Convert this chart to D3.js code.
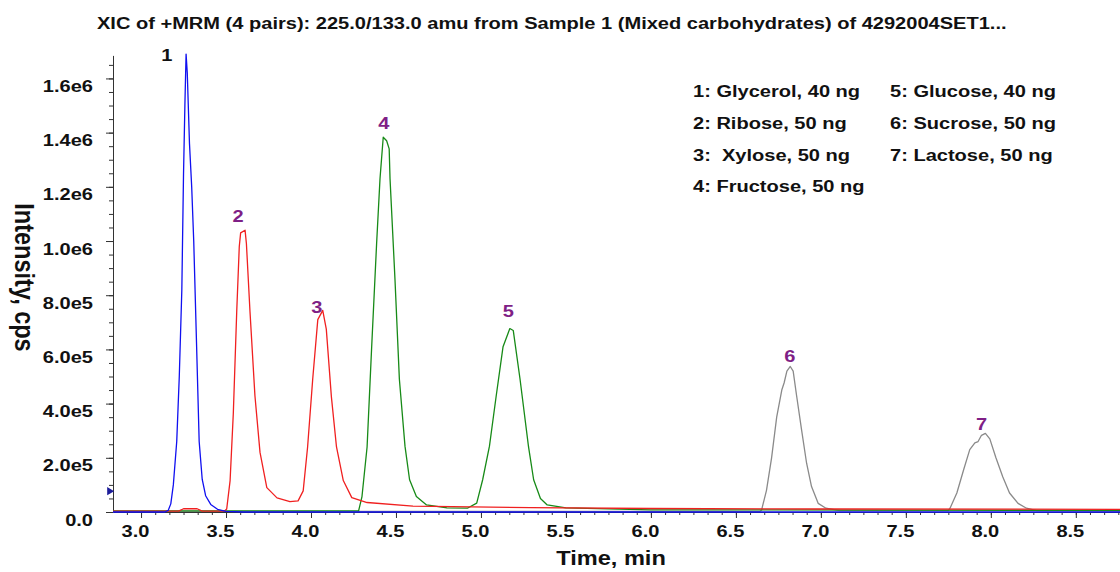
<!DOCTYPE html>
<html>
<head>
<meta charset="utf-8">
<script src="https://cdn.jsdelivr.net/npm/d3@7"></script>
<style>
  body { margin: 0; background: #fff; }
  svg text { font-family: "Liberation Sans", Arial, sans-serif; font-weight: bold; fill: #111; }
</style>
</head>
<body>
<div id="chart"></div>
<script>
const title = "XIC of +MRM (4 pairs): 225.0/133.0 amu from Sample 1 (Mixed carbohydrates) of 4292004SET1...";
const xLabel = "Time, min";
const yLabel = "Intensity, cps";

const xTicks = [3.0, 3.5, 4.0, 4.5, 5.0, 5.5, 6.0, 6.5, 7.0, 7.5, 8.0, 8.5];
const yTicks = [0, 2e5, 4e5, 6e5, 8e5, 1.0e6, 1.2e6, 1.4e6, 1.6e6];
const yTickLabels = ["0.0", "2.0e5", "4.0e5", "6.0e5", "8.0e5", "1.0e6", "1.2e6", "1.4e6", "1.6e6"];

// [time (min), intensity (cps)]
const blueTrace = [
  [2.835, 0], [3.14, 0], [3.16, 6e3], [3.175, 3e4], [3.19, 1.0e5], [3.21, 2.6e5], [3.225, 5.0e5],
  [3.24, 8.2e5], [3.25, 1.25e6], [3.258, 1.5e6], [3.265, 1.69e6], [3.272, 1.62e6], [3.285, 1.36e6],
  [3.298, 1.2e6], [3.31, 1.0e6], [3.327, 6.1e5], [3.342, 2.6e5], [3.36, 1.2e5], [3.38, 6e4],
  [3.41, 2.8e4], [3.45, 1e4], [3.5, 2e3], [3.6, 0], [8.76, 0]
];
const redTrace = [
  [2.835, 3e3], [3.22, 3e3], [3.25, 1.2e4], [3.33, 1.2e4], [3.36, 3e3], [3.49, 3e3], [3.504, 1.1e4],
  [3.524, 1.16e5], [3.543, 3.65e5], [3.563, 7.4e5], [3.578, 9.8e5], [3.586, 1.03e6], [3.612, 1.04e6],
  [3.62, 9.9e5], [3.641, 7.4e5], [3.67, 4.3e5], [3.70, 2.2e5], [3.74, 9e4], [3.80, 5.2e4],
  [3.876, 3.8e4], [3.924, 4.1e4], [3.954, 7.8e4], [3.98, 2.4e5], [4.01, 4.9e5], [4.04, 7.1e5],
  [4.069, 7.44e5], [4.09, 6.75e5], [4.12, 4.25e5], [4.15, 2.4e5], [4.19, 1.16e5], [4.24, 5.3e4],
  [4.33, 3.5e4], [4.6, 2.2e4], [5.29, 1.6e4], [6.0, 1.3e4], [7.0, 1.1e4], [8.76, 1e4]
];
const greenTrace = [
  [2.835, 4e3], [4.28, 4e3], [4.30, 5.7e4], [4.33, 2.4e5], [4.357, 6.1e5], [4.386, 9.9e5],
  [4.406, 1.23e6], [4.425, 1.383e6], [4.445, 1.37e6], [4.46, 1.34e6], [4.465, 1.23e6],
  [4.494, 8.6e5], [4.52, 4.9e5], [4.553, 2.43e5], [4.58, 1.19e5], [4.62, 5.7e4], [4.68, 2.6e4],
  [4.80, 1.5e4], [4.92, 1.4e4], [4.975, 3.3e4], [5.01, 1.19e5], [5.05, 2.43e5], [5.09, 4.3e5],
  [5.13, 6.1e5], [5.17, 6.77e5], [5.19, 6.7e5], [5.23, 4.9e5], [5.28, 2.4e5], [5.31, 1.19e5],
  [5.35, 5e4], [5.39, 2.6e4], [5.5, 1.5e4], [6.0, 8e3], [8.76, 6e3]
];
const grayTrace = [
  [2.835, 2e3], [6.64, 2e3], [6.651, 7e3], [6.68, 8e4], [6.71, 2.0e5], [6.74, 3.5e5], [6.77, 4.5e5],
  [6.784, 4.77e5], [6.80, 5.2e5], [6.82, 5.37e5], [6.837, 5.2e5], [6.857, 4.3e5], [6.886, 3.05e5],
  [6.916, 1.8e5], [6.945, 9.4e4], [6.984, 3.2e4], [7.03, 1.4e4], [7.11, 5e3], [7.75, 5e3],
  [7.76, 1.4e4], [7.80, 7e4], [7.84, 1.56e5], [7.876, 2.3e5], [7.906, 2.55e5], [7.925, 2.6e5],
  [7.945, 2.83e5], [7.968, 2.9e5], [7.994, 2.7e5], [8.03, 2.0e5], [8.07, 1.3e5], [8.11, 7e4],
  [8.16, 3.2e4], [8.21, 1.4e4], [8.27, 5e3], [8.76, 3e3]
];

const peakNames = ["1", "2", "3", "4", "5", "6", "7"];
const peakLabelAt = [[3.151, 1.665e6], [3.571, 1.071e6], [4.034, 7.33e5], [4.428, 1.412e6],
                     [5.161, 7.18e5], [6.818, 5.55e5], [7.945, 3.03e5]];
const peakLabelColors = ["#111", "#7f1f86", "#7f1f86", "#7f1f86", "#7f1f86", "#7f1f86", "#7f1f86"];

const legendLeft = ["1: Glycerol, 40 ng", "2: Ribose, 50 ng", "3:  Xylose, 50 ng", "4: Fructose, 50 ng"];
const legendRight = ["5: Glucose, 40 ng", "6: Sucrose, 50 ng", "7: Lactose, 50 ng"];

const thresholdLevel = 7.7e4;

// text in the source picture is drawn wider than normal
const KX = 1.18;

const W = 1120, H = 572;
const svg = d3.select("#chart").append("svg")
    .attr("width", W)
    .attr("height", H);

const x = d3.scaleLinear().domain([2.835, 8.76]).range([113, 1120]);
const y = d3.scaleLinear().domain([0, 1.685e6]).range([512, 55.4]);

// x axis: minor ticks every 5 s, labelled ticks every 0.5 min
const minorX = d3.range(Math.ceil(2.835 * 12), Math.floor(8.76 * 12) + 1).map(i => i / 12);
svg.append("g")
    .attr("transform", `translate(0,${y(0)})`)
    .call(d3.axisBottom(x).tickValues(minorX).tickSize(3).tickSizeOuter(0).tickFormat(""));
const gx = svg.append("g")
    .attr("transform", `translate(0,${y(0)})`)
    .call(d3.axisBottom(x).tickValues(xTicks).tickSize(6).tickFormat(d => d.toFixed(1)));
gx.select(".domain").remove();
gx.selectAll("text")
    .attr("x", null).attr("y", null).attr("dy", null)
    .attr("transform", `translate(-6,24.5) scale(${KX},1)`)
    .style("font-size", "17px");

// y axis
svg.append("g")
    .attr("transform", "translate(113,0)")
    .call(d3.axisLeft(y).tickValues(d3.range(0, 1.685e6, 5e4)).tickSize(4).tickSizeOuter(0).tickFormat(""));
const gy = svg.append("g")
    .attr("transform", "translate(113,0)")
    .call(d3.axisLeft(y).tickValues(yTicks).tickSize(7).tickFormat((d, i) => yTickLabels[i]));
gy.select(".domain").remove();
gy.selectAll("text")
    .attr("x", null).attr("dy", null)
    .attr("transform", `translate(-20,13) scale(${KX},1)`)
    .style("font-size", "17px");

svg.selectAll(".domain, .tick line").attr("stroke", "#333");

// traces
const line = d3.line().x(d => x(d[0])).y(d => y(d[1]));
const traces = [
  { data: grayTrace, color: "#8a8a8a" },
  { data: greenTrace, color: "#178a17" },
  { data: redTrace, color: "#f02020" },
  { data: blueTrace, color: "#1010f0" }
];
svg.append("g")
    .selectAll("path")
    .data(traces)
    .join("path")
      .attr("fill", "none")
      .attr("stroke", d => d.color)
      .attr("stroke-width", 1.3)
      .attr("stroke-linejoin", "round")
      .attr("d", d => line(d.data));

// threshold marker on the y axis
svg.append("path")
    .attr("d", d3.symbol(d3.symbolTriangle, 28)())
    .attr("transform", `translate(109.5,${y(thresholdLevel)}) rotate(90)`)
    .attr("fill", "#1c1c9a");

// peak numbers
svg.append("g")
    .selectAll("text")
    .data(peakNames)
    .join("text")
      .attr("transform", (d, i) => `translate(${x(peakLabelAt[i][0])},${y(peakLabelAt[i][1])}) scale(${KX},1)`)
      .attr("text-anchor", "middle")
      .style("font-size", "17px")
      .style("fill", (d, i) => peakLabelColors[i])
      .text(d => d);

// legend, two columns
svg.append("g")
    .selectAll("text")
    .data(legendLeft.map((t, i) => ({ t, col: 0, row: i }))
      .concat(legendRight.map((t, i) => ({ t, col: 1, row: i }))))
    .join("text")
      .attr("transform", d => `translate(${d.col ? 890 : 693},${97 + d.row * 31.8}) scale(${KX},1)`)
      .style("font-size", "17px")
      .style("white-space", "pre")
      .text(d => d.t);

// titles
svg.append("text")
    .attr("transform", `translate(97,29) scale(${KX},1)`)
    .style("font-size", "17px")
    .text(title);

svg.append("text")
    .attr("transform", `translate(611,565) scale(${KX},1)`)
    .attr("text-anchor", "middle")
    .style("font-size", "20px")
    .text(xLabel);

svg.append("text")
    .attr("transform", `translate(15,277.5) scale(${KX},1) rotate(90)`)
    .attr("text-anchor", "middle")
    .style("font-size", "23.5px")
    .text(yLabel);
</script>
</body>
</html>
